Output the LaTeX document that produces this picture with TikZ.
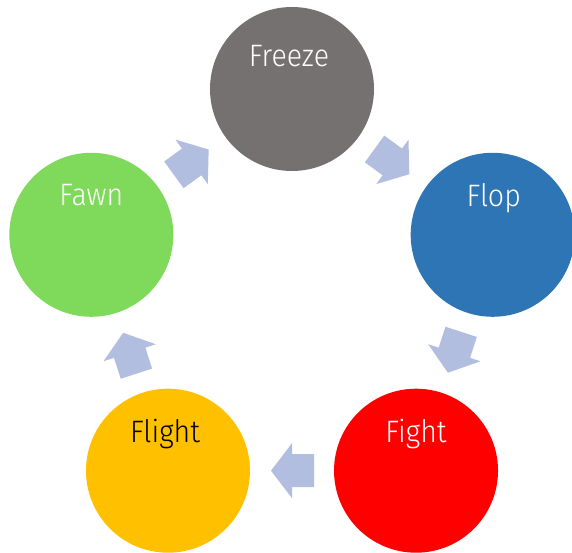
\documentclass[tikz,border=0pt]{standalone}
\usepackage{fontspec}
\setmainfont{Fira Sans}[UprightFont=* Light, FakeStretch=0.92]
\usetikzlibrary{calc}

\definecolor{freezegray}{HTML}{767171}
\definecolor{flopblue}{HTML}{2E75B6}
\definecolor{fightred}{HTML}{FF0000}
\definecolor{flightgold}{HTML}{FFC000}
\definecolor{fawngreen}{HTML}{7FD95B}
\definecolor{cyclearrow}{HTML}{B1BEE0}

\tikzset{
  stage/.style={circle, minimum size=164pt, inner sep=0pt, draw=none},
  stagelabel/.style={anchor=base, inner sep=0pt, font=\fontsize{31}{33}\selectfont},
  cyclearrowfill/.style={fill=cyclearrow, draw=none}
}

% block arrow centred on a point, pointing along the given angle
\newcommand{\cyclearrowat}[2]{%
  \fill[cyclearrowfill, shift={(#1)}, rotate=#2]
    (-22,-16.5) -- (0,-16.5) -- (0,-27.5) -- (21,0) -- (0,27.5)
    -- (0,16.5) -- (-22,16.5) -- cycle;
}

\begin{document}
\begin{tikzpicture}[x=1pt, y=1pt]
  \useasboundingbox (0,0) rectangle (572,553);

  % pentagon of stages
  \coordinate (hub) at (292,253);
  \node[stage, fill=freezegray] (freeze) at ($(hub)+(90:211)$) {};
  \node[stage, fill=flopblue]   (flop)   at ($(hub)+(18:211)$) {};
  \node[stage, fill=fightred]   (fight)  at ($(hub)+(-54:211)$) {};
  \node[stage, fill=flightgold] (flight) at ($(hub)+(-126:211)$) {};
  \node[stage, fill=fawngreen]  (fawn)   at ($(hub)+(162:211)$) {};

  % labels
  \node[stagelabel, text=white] (freezetext) at ($(freeze.center)+(-3,22)$) {Freeze};
  \node[stagelabel, text=white] (floptext)   at ($(flop.center)+(1,28)$) {Flop};
  \node[stagelabel, text=white] (fighttext)  at ($(fight.center)+(0,28)$) {Fight};
  \node[stagelabel, text=black] (flighttext) at ($(flight.center)+(-3,28)$) {Flight};
  \node[stagelabel, text=white] (fawntext)   at ($(fawn.center)+(0,29)$) {Fawn};

  % arrows between neighbouring stages
  \coordinate (a1) at ($(freeze)!0.5!(flop)$);
  \coordinate (a2) at ($(flop)!0.5!(fight)$);
  \coordinate (a3) at ($(fight)!0.5!(flight)$);
  \coordinate (a4) at ($(flight)!0.5!(fawn)$);
  \coordinate (a5) at ($(fawn)!0.5!(freeze)$);
  \cyclearrowat{a1}{-36}
  \cyclearrowat{a2}{-108}
  \cyclearrowat{a3}{180}
  \cyclearrowat{a4}{108}
  \cyclearrowat{a5}{36}
\end{tikzpicture}
\end{document}
